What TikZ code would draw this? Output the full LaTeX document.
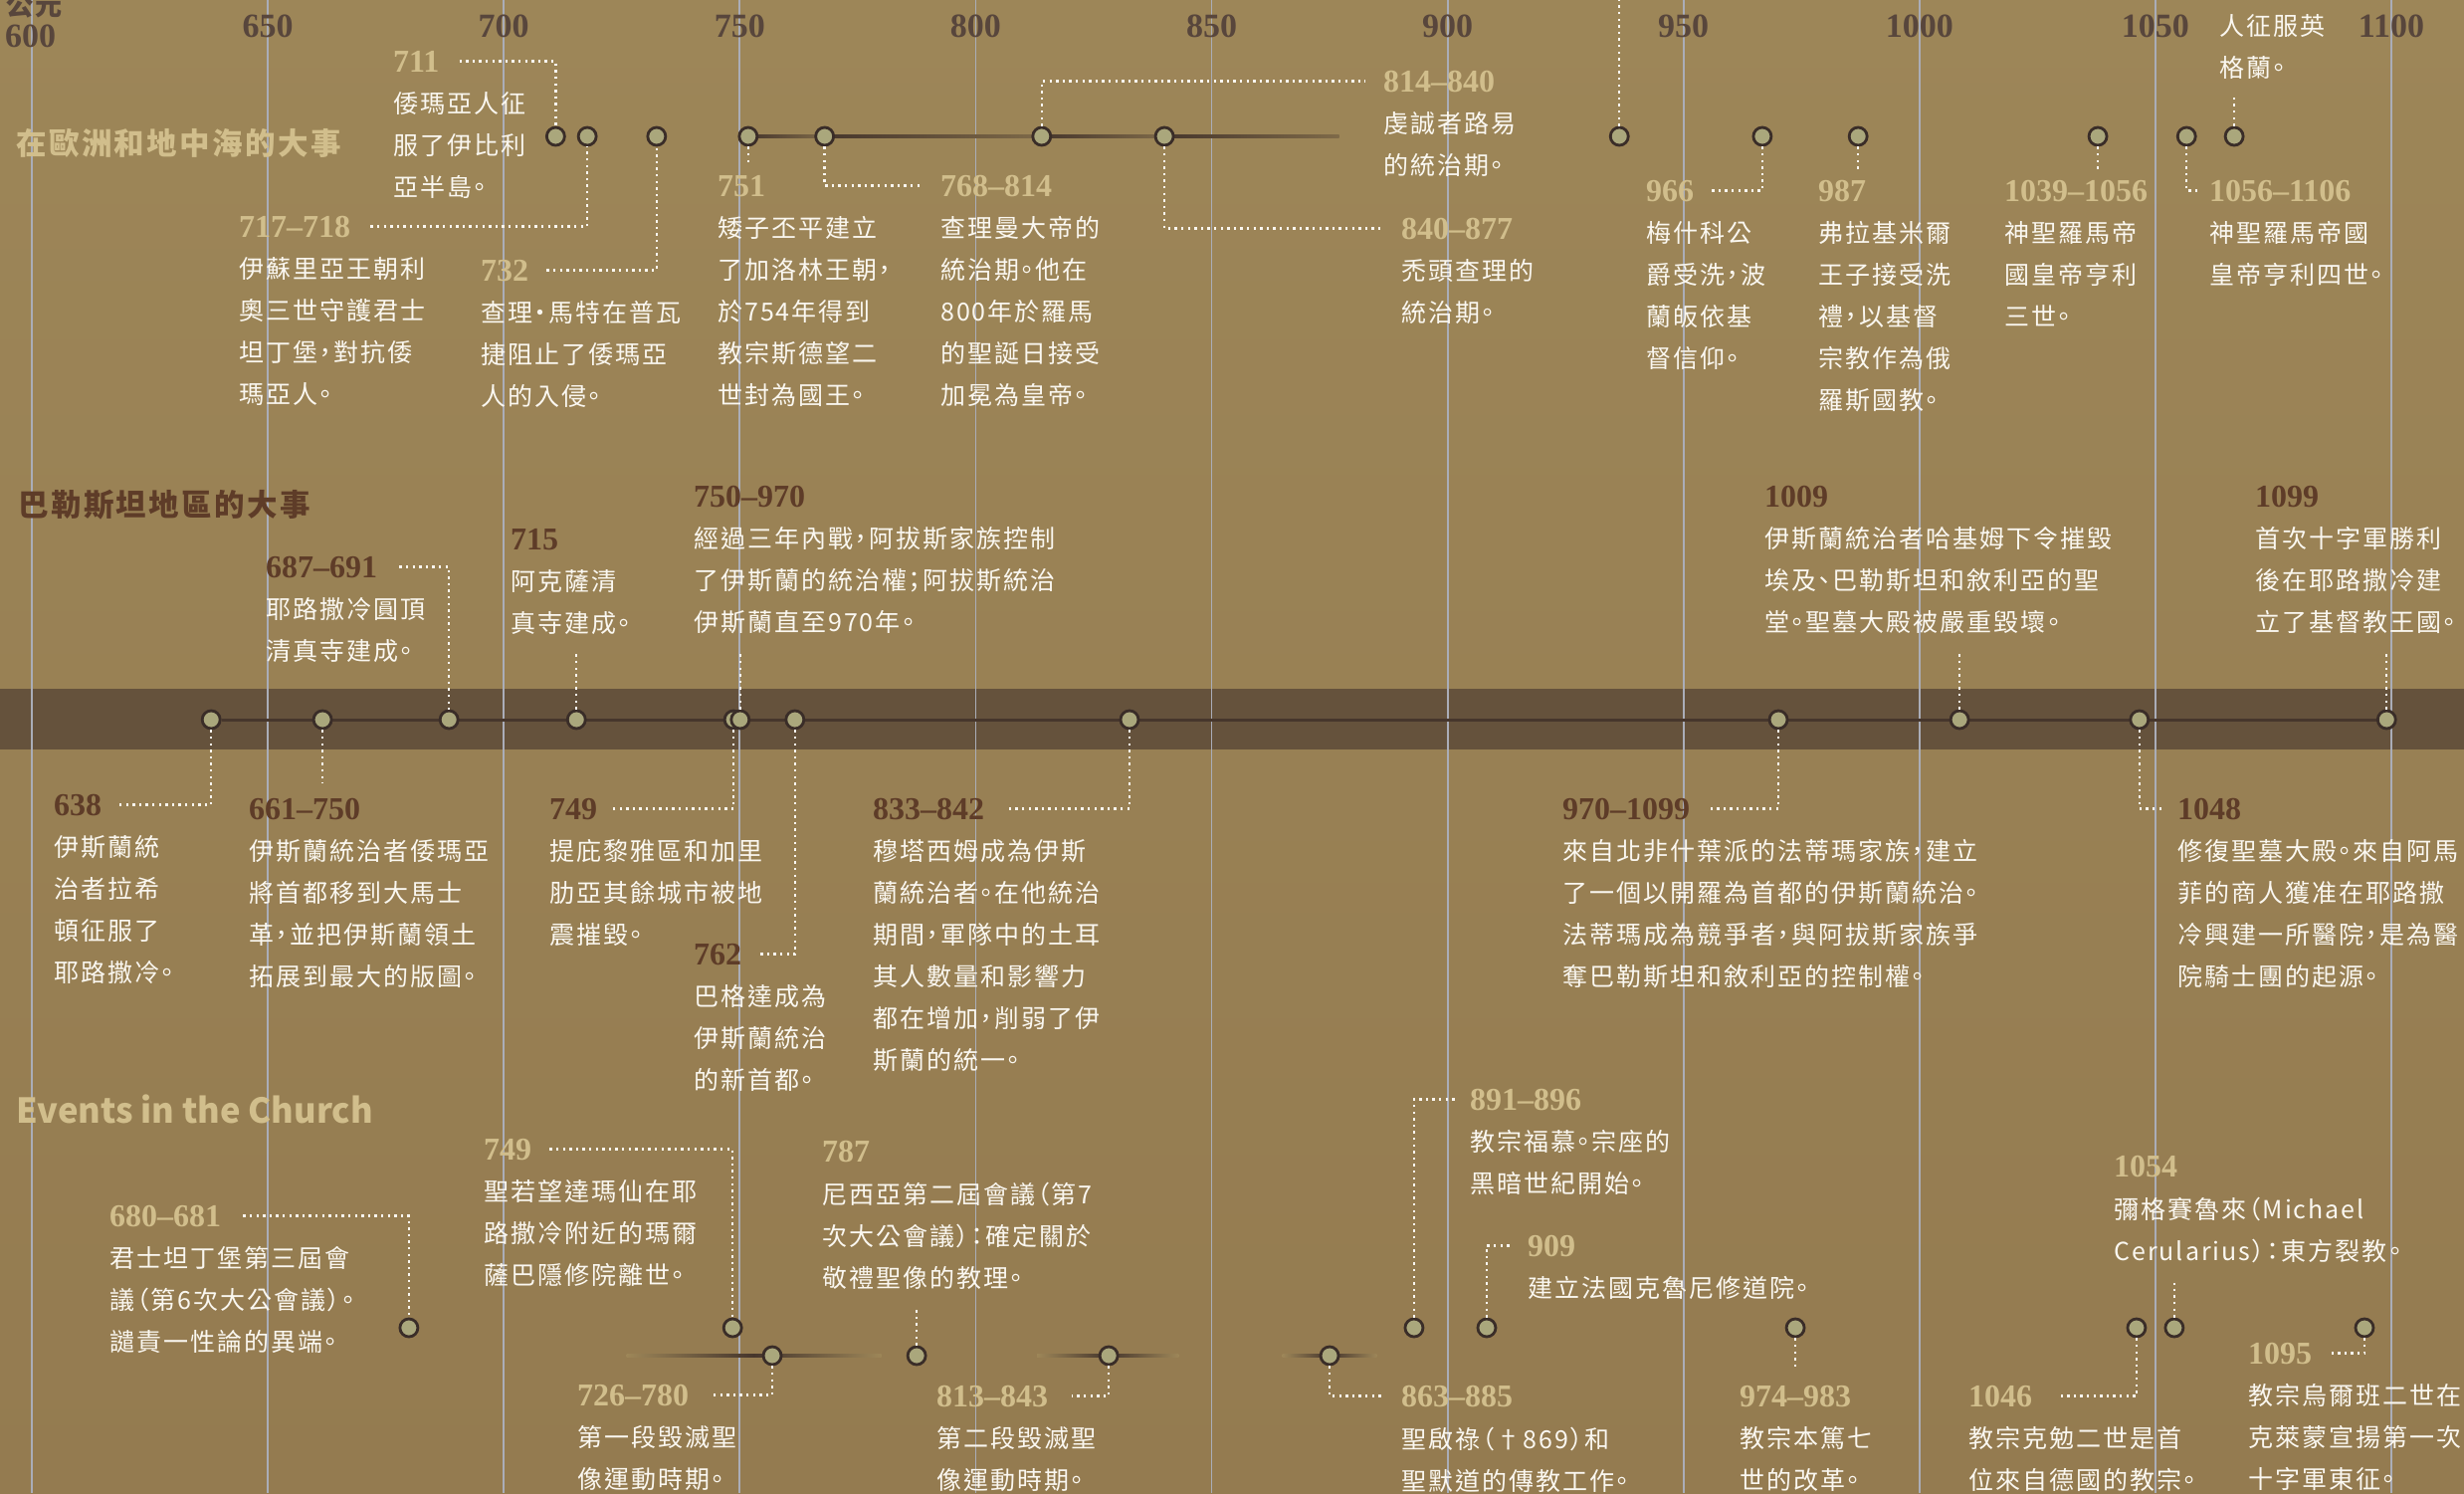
\documentclass[tikz,border=0pt]{standalone}
\usepackage{fontspec}
\newfontfamily\cjk[LetterSpace=8,RawFeature=+palt]{Noto Sans CJK TC}
\newfontfamily\latn{Noto Sans CJK TC}
\newfontfamily\yrf{Liberation Serif}
\usetikzlibrary{positioning,backgrounds}
\definecolor{paper}{RGB}{157,134,88}
\definecolor{paperdk}{RGB}{148,123,80}
\definecolor{bandc}{RGB}{101,82,60}
\definecolor{linec}{RGB}{70,54,44}
\definecolor{gridc}{RGB}{170,173,184}
\definecolor{dotfill}{RGB}{170,167,124}
\definecolor{dotrim}{RGB}{58,45,40}
\definecolor{tanc}{RGB}{209,190,140}
\definecolor{darkbr}{RGB}{94,60,40}
\definecolor{axisc}{RGB}{88,70,60}
\definecolor{cream}{RGB}{250,247,240}
% year -> x (pt)
\newcommand{\yx}[1]{#1*4.742-2813.2}
\begin{document}
\begin{tikzpicture}[x=1pt,y=-1pt,
  evdot/.style={circle,fill=dotfill,draw=dotrim,line width=2.8pt,minimum size=18pt,inner sep=0pt},
  yrtan/.style={anchor=base west,inner sep=0pt,text=tanc,font=\yrf\bfseries\fontsize{32}{32}\selectfont},
  yrdark/.style={yrtan,text=darkbr},
  axlab/.style={anchor=base,inner sep=0pt,text=axisc,font=\yrf\bfseries\fontsize{34}{34}\selectfont},
  txt/.style={anchor=north west,inner sep=0pt,align=left,text=cream,font=\cjk\fontsize{25}{42}\selectfont},
  head/.style={anchor=base west,inner sep=0pt,font=\cjk\bfseries\fontsize{30.5}{30.5}\selectfont},
  dotline/.style={draw=cream,line width=2.4pt,dash pattern=on 2.4pt off 4.2pt},
  yrline/.style={draw=gridc,line width=1.8pt}]
\useasboundingbox (0,0) rectangle (2476,1500);
% year axis
\node[axlab,anchor=base west,font=\cjk\bfseries\fontsize{27}{27}\selectfont] (ce) at (6,15) {公元};
\node[axlab,anchor=base west] (a600) at (5,47) {600};
\foreach \k in {650,700,...,1100} \node[axlab] (a\k) at ({\yx{\k}},37) {\k};
% section heads
\node[head,text=tanc] (hEur) at (16,155) {在歐洲和地中海的大事};
\node[head,text=darkbr] (hPal) at (18,518) {巴勒斯坦地區的大事};
\node[head,text=tanc,font=\latn\bfseries\fontsize{34.5}{34.5}\selectfont] (hChu) at (16,1128) {Events in the Church};
% event dots
\foreach \n/\y in {711/711,717/717.7,732/732.4,751/751.8,768/768,814/814,840/840,936/936.4,966/966.7,987/987,1039/1037.8,1056/1056.6,1066/1066.7}
  \node[evdot] (n\n) at ({\yx{\y}},137) {};
\foreach \n/\y in {638/638,661/661.6,687/688.4,715/715.4,749/748.7,750/750.1,762/761.7,833/832.6,970/970.1,1009/1008.5,1048/1046.6,1099/1099}
  \node[evdot] (p\n) at ({\yx{\y}},723) {};
\foreach \n/\y in {680/679.9,749/748.5,891/892.9,909/908.3,974/973.7,1046/1046,1054/1054,1095/1094.3}
  \node[evdot] (c\n) at ({\yx{\y}},1334) {};
\foreach \n/\y in {726/756.9,787/787.5,813/828.2,863/875}
  \node[evdot] (c\n) at ({\yx{\y}},1362) {};
\coordinate (top936) at ({\yx{936.4}},0);

% Europe and Mediterranean
\node[yrtan] (ye711) at (395,72) {711};
\node[txt,below right=20pt and 0pt of ye711.south west] (te711) {倭瑪亞人征\\服了伊比利\\亞半島。};
\node[yrtan] (ye717) at (240,238) {717–718};
\node[txt,below right=20pt and 0pt of ye717.south west] (te717) {伊蘇里亞王朝利\\奧三世守護君士\\坦丁堡，對抗倭\\瑪亞人。};
\node[yrtan] (ye732) at (483,282) {732};
\node[txt,below right=20pt and 0pt of ye732.south west] (te732) {查理‧馬特在普瓦\\捷阻止了倭瑪亞\\人的入侵。};
\node[yrtan] (ye751) at (721,197) {751};
\node[txt,below right=20pt and 0pt of ye751.south west] (te751) {矮子丕平建立\\了加洛林王朝，\\於754年得到\\教宗斯德望二\\世封為國王。};
\node[yrtan] (ye768) at (945,197) {768–814};
\node[txt,below right=20pt and 0pt of ye768.south west] (te768) {查理曼大帝的\\統治期。他在\\800年於羅馬\\的聖誕日接受\\加冕為皇帝。};
\node[yrtan] (ye814) at (1390,92) {814–840};
\node[txt,below right=20pt and 0pt of ye814.south west] (te814) {虔誠者路易\\的統治期。};
\node[yrtan] (ye840) at (1408,240) {840–877};
\node[txt,below right=20pt and 0pt of ye840.south west] (te840) {禿頭查理的\\統治期。};
\node[yrtan] (ye966) at (1654,202) {966};
\node[txt,below right=20pt and 0pt of ye966.south west] (te966) {梅什科公\\爵受洗，波\\蘭皈依基\\督信仰。};
\node[yrtan] (ye987) at (1827,202) {987};
\node[txt,below right=20pt and 0pt of ye987.south west] (te987) {弗拉基米爾\\王子接受洗\\禮，以基督\\宗教作為俄\\羅斯國教。};
\node[yrtan] (ye1039) at (2014,202) {1039–1056};
\node[txt,below right=20pt and 0pt of ye1039.south west] (te1039) {神聖羅馬帝\\國皇帝亨利\\三世。};
\node[yrtan] (ye1056) at (2220,202) {1056–1106};
\node[txt,below right=20pt and 0pt of ye1056.south west] (te1056) {神聖羅馬帝國\\皇帝亨利四世。};
\node[txt] (te1066) at (2230,14) {人征服英\\格蘭。};

% Palestine
\node[yrdark] (yp638) at (54,819) {638};
\node[txt,below right=20pt and 0pt of yp638.south west] (tp638) {伊斯蘭統\\治者拉希\\頓征服了\\耶路撒冷。};
\node[yrdark] (yp661) at (250,823) {661–750};
\node[txt,below right=20pt and 0pt of yp661.south west] (tp661) {伊斯蘭統治者倭瑪亞\\將首都移到大馬士\\革，並把伊斯蘭領土\\拓展到最大的版圖。};
\node[yrdark] (yp687) at (267,580) {687–691};
\node[txt,below right=20pt and 0pt of yp687.south west] (tp687) {耶路撒冷圓頂\\清真寺建成。};
\node[yrdark] (yp715) at (513,552) {715};
\node[txt,below right=20pt and 0pt of yp715.south west] (tp715) {阿克薩清\\真寺建成。};
\node[yrdark] (yp749) at (552,823) {749};
\node[txt,below right=20pt and 0pt of yp749.south west] (tp749) {提庇黎雅區和加里\\肋亞其餘城市被地\\震摧毀。};
\node[yrdark] (yp750) at (697,509) {750–970};
\node[txt,below right=20pt and 0pt of yp750.south west] (tp750) {經過三年內戰，阿拔斯家族控制\\了伊斯蘭的統治權；阿拔斯統治\\伊斯蘭直至970年。};
\node[yrdark] (yp762) at (697,969) {762};
\node[txt,below right=20pt and 0pt of yp762.south west] (tp762) {巴格達成為\\伊斯蘭統治\\的新首都。};
\node[yrdark] (yp833) at (877,823) {833–842};
\node[txt,below right=20pt and 0pt of yp833.south west] (tp833) {穆塔西姆成為伊斯\\蘭統治者。在他統治\\期間，軍隊中的土耳\\其人數量和影響力\\都在增加，削弱了伊\\斯蘭的統一。};
\node[yrdark] (yp970) at (1570,823) {970–1099};
\node[txt,below right=20pt and 0pt of yp970.south west] (tp970) {來自北非什葉派的法蒂瑪家族，建立\\了一個以開羅為首都的伊斯蘭統治。\\法蒂瑪成為競爭者，與阿拔斯家族爭\\奪巴勒斯坦和敘利亞的控制權。};
\node[yrdark] (yp1009) at (1773,509) {1009};
\node[txt,below right=20pt and 0pt of yp1009.south west] (tp1009) {伊斯蘭統治者哈基姆下令摧毀\\埃及、巴勒斯坦和敘利亞的聖\\堂。聖墓大殿被嚴重毀壞。};
\node[yrdark] (yp1048) at (2188,823) {1048};
\node[txt,below right=20pt and 0pt of yp1048.south west] (tp1048) {修復聖墓大殿。來自阿馬\\菲的商人獲准在耶路撒\\冷興建一所醫院，是為醫\\院騎士團的起源。};
\node[yrdark] (yp1099) at (2266,509) {1099};
\node[txt,below right=20pt and 0pt of yp1099.south west] (tp1099) {首次十字軍勝利\\後在耶路撒冷建\\立了基督教王國。};

% Church
\node[yrtan] (yc680) at (110,1232) {680–681};
\node[txt,below right=20pt and 0pt of yc680.south west] (tc680) {君士坦丁堡第三屆會\\議（第6次大公會議）。\\譴責一性論的異端。};
\node[yrtan] (yc749) at (486,1165) {749};
\node[txt,below right=20pt and 0pt of yc749.south west] (tc749) {聖若望達瑪仙在耶\\路撒冷附近的瑪爾\\薩巴隱修院離世。};
\node[yrtan] (yc726) at (580,1412) {726–780};
\node[txt,below right=20pt and 0pt of yc726.south west] (tc726) {第一段毀滅聖\\像運動時期。};
\node[yrtan] (yc787) at (826,1167) {787};
\node[txt,below right=20pt and 0pt of yc787.south west] (tc787) {尼西亞第二屆會議（第7\\次大公會議）：確定關於\\敬禮聖像的教理。};
\node[yrtan] (yc813) at (941,1413) {813–843};
\node[txt,below right=20pt and 0pt of yc813.south west] (tc813) {第二段毀滅聖\\像運動時期。};
\node[yrtan] (yc863) at (1408,1413) {863–885};
\node[txt,below right=20pt and 0pt of yc863.south west] (tc863) {聖啟祿（†869）和\\聖默道的傳教工作。};
\node[yrtan] (yc891) at (1477,1115) {891–896};
\node[txt,below right=20pt and 0pt of yc891.south west] (tc891) {教宗福慕。宗座的\\黑暗世紀開始。};
\node[yrtan] (yc909) at (1535,1262) {909};
\node[txt,below right=20pt and 0pt of yc909.south west] (tc909) {建立法國克魯尼修道院。};
\node[yrtan] (yc974) at (1748,1413) {974–983};
\node[txt,below right=20pt and 0pt of yc974.south west] (tc974) {教宗本篤七\\世的改革。};
\node[yrtan] (yc1046) at (1978,1413) {1046};
\node[txt,below right=20pt and 0pt of yc1046.south west] (tc1046) {教宗克勉二世是首\\位來自德國的教宗。};
\node[yrtan] (yc1054) at (2124,1182) {1054};
\node[txt,below right=20pt and 0pt of yc1054.south west] (tc1054) {彌格賽魯來（Michael\\Cerularius）：東方裂教。};
\node[yrtan] (yc1095) at (2259,1370) {1095};
\node[txt,below right=20pt and 0pt of yc1095.south west] (tc1095) {教宗烏爾班二世在\\克萊蒙宣揚第一次\\十字軍東征。};

% dotted leaders
\draw[dotline,shorten <=20pt] (ye711.east) -| (n711);
\draw[dotline,shorten <=20pt] (ye717.east) -| (n717);
\draw[dotline,shorten <=18pt] (ye732.east) -| (n732);
\draw[dotline,shorten >=10pt] (n751) -- (n751 |- ye751.north);
\draw[dotline,shorten >=17pt] (n768) |- (ye768.west);
\draw[dotline,shorten >=18pt] (n814) |- (ye814.west);
\draw[dotline,shorten >=18pt] (n840) |- (ye840.west);
\draw[dotline] (n936) -- (top936);
\draw[dotline,shorten >=15pt] (n966) |- (ye966.east);
\draw[dotline,shorten >=11pt] (n987) -- (n987 |- ye987.north);
\draw[dotline,shorten >=11pt] (n1039) -- (n1039 |- ye1039.north);
\draw[dotline,shorten >=12pt] (n1056) |- (ye1056.west);
\draw[dotline,shorten >=18pt] (n1066) -- (n1066 |- te1066.south);
\draw[dotline,shorten >=14pt] (p638) |- (yp638.east);
\draw[dotline,shorten >=15pt] (p661) -- (p661 |- yp661.north);
\draw[dotline,shorten <=22pt] (yp687.east) -| (p687);
\draw[dotline,shorten >=16pt] (p715) -- (p715 |- tp715.south);
\draw[dotline,shorten >=16pt] (p749) |- (yp749.east);
\draw[dotline,shorten >=20pt] (p750) -- (p750 |- tp750.south);
\draw[dotline,shorten >=16pt] (p762) |- (yp762.east);
\draw[dotline,shorten >=22pt] (p833) |- (yp833.east);
\draw[dotline,shorten >=20pt] (p970) |- (yp970.east);
\draw[dotline,shorten >=20pt] (p1009) -- (p1009 |- tp1009.south);
\draw[dotline,shorten >=16pt] (p1048) |- (yp1048.west);
\draw[dotline,shorten >=20pt] (p1099) -- (p1099 |- tp1099.south);
\draw[dotline,shorten <=22pt] (yc680.east) -| (c680);
\draw[dotline,shorten <=18pt] (yc749.east) -| (c749);
\draw[dotline,shorten >=21pt] (c726) |- (yc726.east);
\draw[dotline,shorten >=21pt] (c787) -- (c787 |- tc787.south);
\draw[dotline,shorten >=24pt] (c813) |- (yc813.east);
\draw[dotline,shorten >=18pt] (c863) |- (yc863.west);
\draw[dotline,shorten >=14pt] (c891) |- (yc891.west);
\draw[dotline,shorten >=18pt] (c909) |- (yc909.west);
\draw[dotline,shorten >=19pt] (c974) -- (c974 |- yc974.north);
\draw[dotline,shorten >=25pt] (c1046) |- (yc1046.east);
\draw[dotline,shorten >=20pt] (c1054) -- (c1054 |- tc1054.south);
\draw[dotline,shorten >=16pt] (c1095) |- (yc1095.east);

\begin{scope}[on background layer]
\shade[top color=paper,bottom color=paperdk] (0,0) rectangle (2476,1500);
\fill[bandc] (0,692) rectangle (2476,753);
\foreach \k in {0,...,10} \draw[yrline] ({32+237.1*\k},0) -- ({32+237.1*\k},1500);
\draw[linec,line width=3pt] (p638) -- (p1099);
% reign bars
\foreach \a/\b in {751.8/768,768/814,814/840,840/877}
  \shade[left color=linec,right color=linec!35!paper] ({\yx{\a}},135.5) rectangle ({\yx{\b}},138.5);
\foreach \a/\b in {726/780,813/843,865/885}
  \shade[left color=paper,right color=paper,middle color=linec] ({\yx{\a}},1360.5) rectangle ({\yx{\b}},1363.5);
\end{scope}
\end{tikzpicture}
\end{document}
